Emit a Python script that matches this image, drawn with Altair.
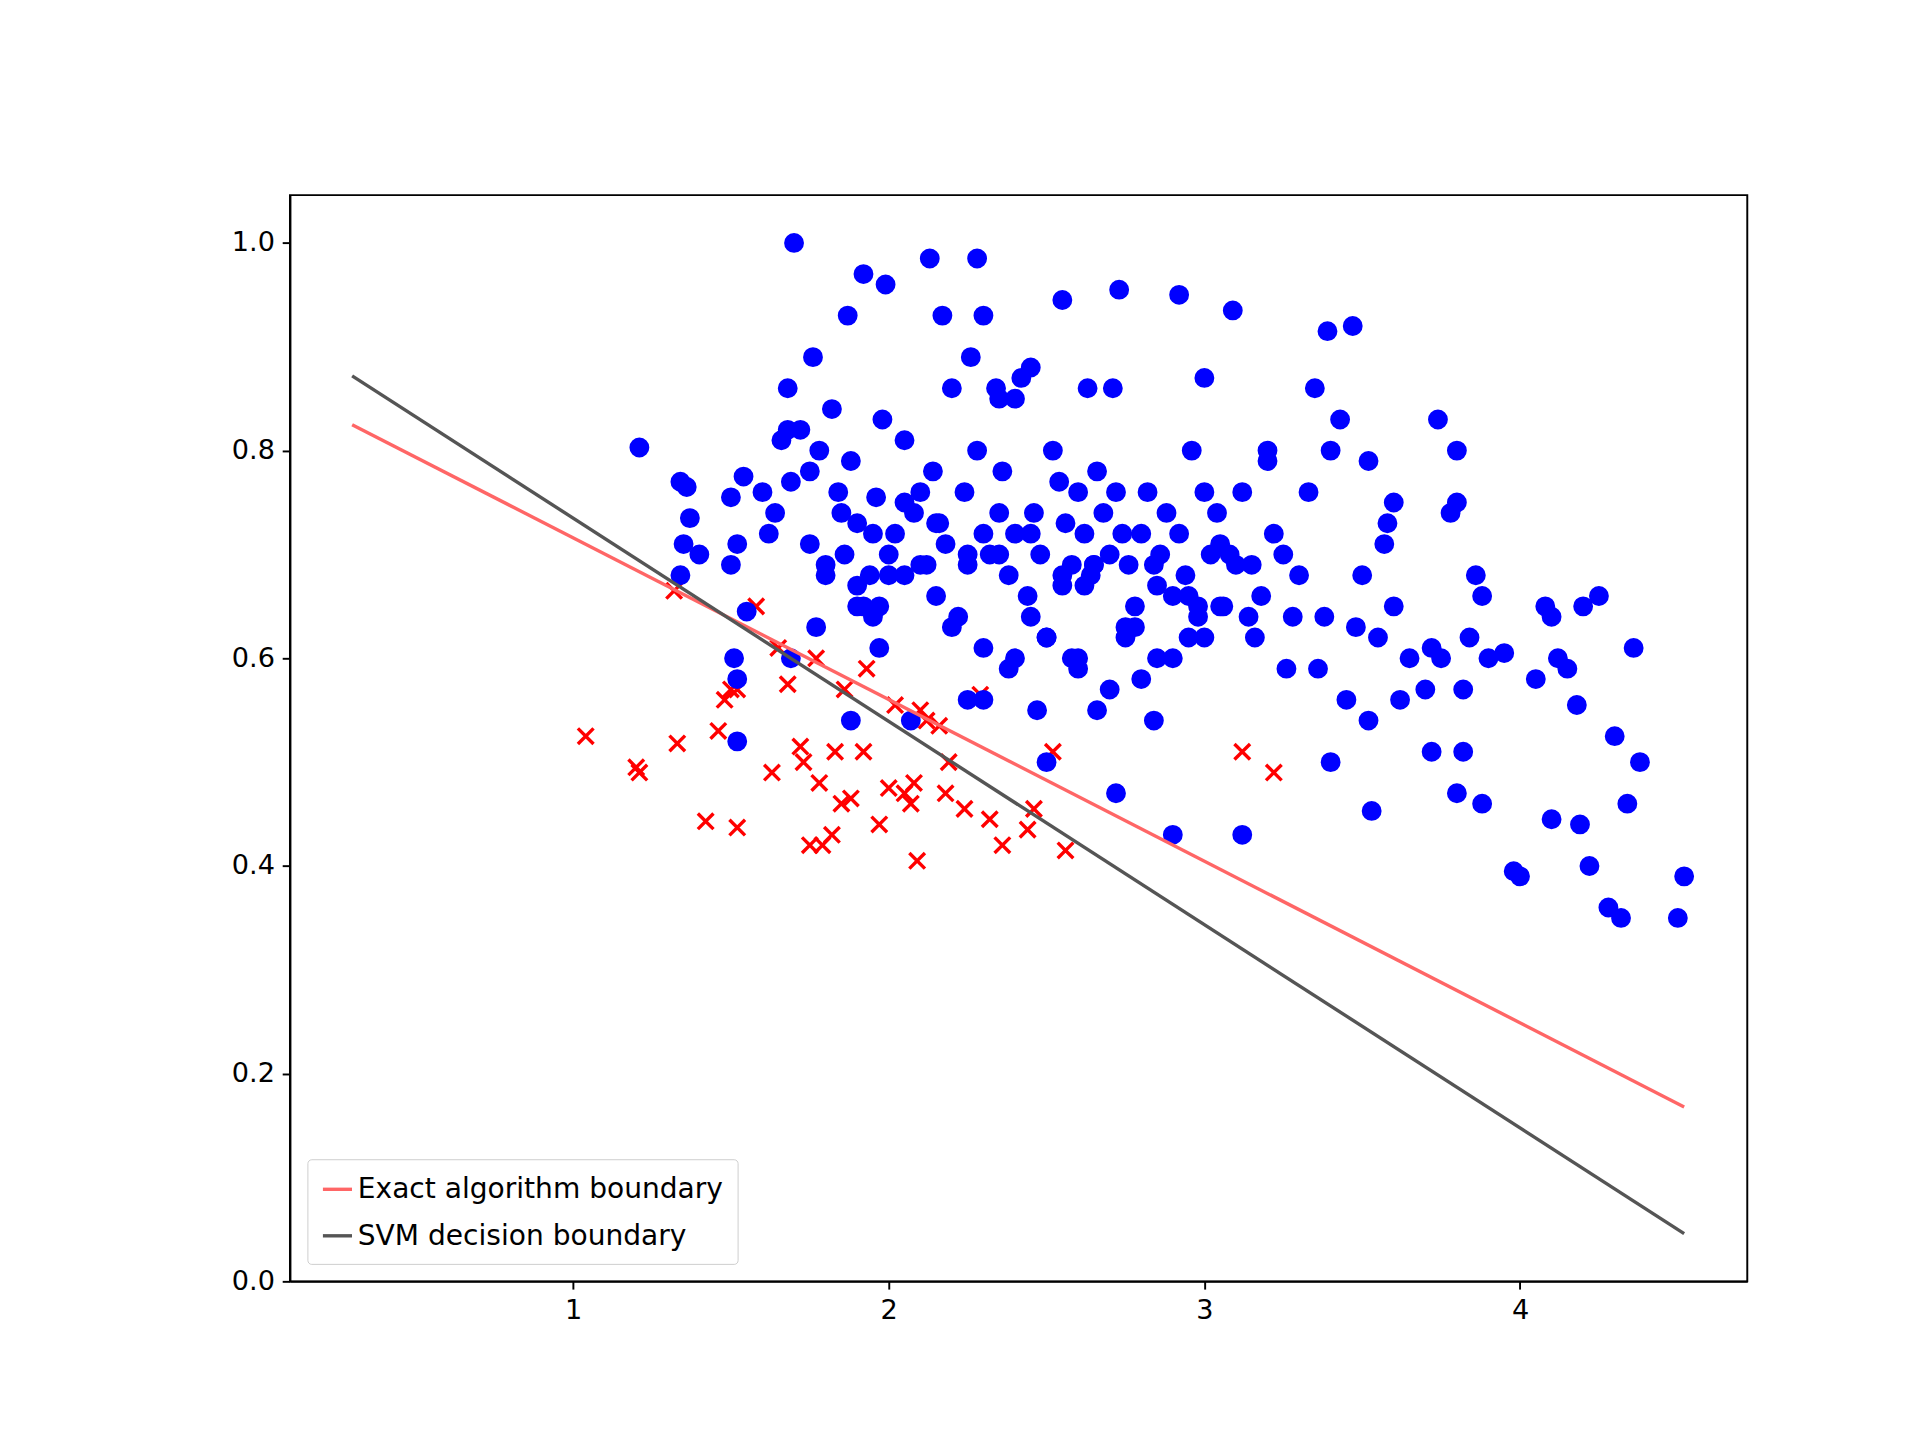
import altair as alt
import pandas as pd

red_x = [1.04,1.20,1.21,1.33,1.32,1.42,1.46,1.48,1.50,1.52,1.52,1.58,1.63,1.65,1.68,1.72,1.73,1.75,1.77,1.78,1.79,1.82,1.83,1.85,1.86,1.88,1.92,1.97,2.00,2.05,2.07,2.08,2.09,2.10,2.12,2.16,2.18,2.19,2.24,2.29,2.32,2.36,2.44,2.46,2.52,2.56,3.12,3.22,1.93,2.02]
red_y = [0.525,0.495,0.490,0.518,0.665,0.443,0.530,0.560,0.570,0.437,0.570,0.650,0.490,0.610,0.575,0.515,0.500,0.420,0.600,0.480,0.420,0.430,0.510,0.460,0.570,0.465,0.510,0.440,0.475,0.470,0.460,0.480,0.405,0.550,0.540,0.535,0.470,0.500,0.455,0.565,0.445,0.420,0.435,0.455,0.510,0.415,0.510,0.490,0.590,0.555]

blue_x = [1.21,1.34,1.35,1.37,1.34,1.36,1.40,1.50,1.52,1.54,1.51,1.50,1.55,1.60,1.62,1.64,1.66,1.68,1.69,1.72,1.75,1.76,1.78,1.80,1.82,1.84,1.86,1.88,1.90,1.92,1.94,1.96,1.98,2.00,2.02,2.05,2.08,2.10,2.12,2.14,2.16,2.18,2.20,2.22,2.24,2.26,2.28,2.30,2.32,2.34,2.36,2.38,2.40,2.42,2.44,2.46,2.48,2.50,2.52,2.54,2.56,2.58,2.60,2.62,2.64,2.66,2.68,2.70,2.72,2.74,2.76,2.78,2.80,2.82,2.84,2.86,2.88,2.90,2.92,2.94,2.96,2.98,3.00,3.02,3.04,3.06,3.08,3.10,3.12,3.14,3.16,3.18,3.20,3.22,3.25,3.28,3.30,3.33,3.36,3.38,3.40,3.45,3.48,3.50,3.52,3.55,3.58,3.60,3.62,3.65,3.70,3.72,3.75,3.78,3.80,3.82,3.84,3.86,3.88,3.90,3.95,4.00,4.05,4.08,4.10,4.12,4.15,4.18,4.20,4.22,4.25,4.28,4.30,4.32,4.34,4.36,4.38,4.50,4.52,3.98,4.10,4.19,3.88,3.80,3.82,3.74,3.53,3.12,2.90,2.72,2.66,2.60,2.50,2.38,2.30,1.97,2.07,1.88,1.52,1.52,1.69,1.75,1.97,1.90,1.95,2.05,2.15,2.25,2.35,2.45,2.55,2.65,2.75,2.85,2.95,3.05,3.15,1.85,1.95,2.05,2.15,2.25,2.35,2.45,2.55,2.65,2.75,2.85,2.95,3.05,2.20,2.30,2.40,2.50,2.60,2.70,2.80,2.90,3.00,2.10,2.00,1.90,1.80,1.70,2.28,2.73,2.92,3.39,3.47,3.09,2.13,1.99,1.87,1.92,2.17,2.30,2.55,2.63,2.45,2.71,1.77,1.68,2.40,3.00,3.20,3.35,3.60,3.72,3.80,3.43,3.57,2.62,2.78,2.84,2.98,3.26,3.40,3.52,2.47,2.35,2.25,2.58]
blue_y = [0.803,0.770,0.710,0.735,0.680,0.765,0.700,0.690,0.710,0.775,0.600,0.755,0.645,0.760,0.720,0.740,0.810,0.860,0.770,0.820,0.780,0.890,0.800,0.690,0.840,0.760,0.700,0.790,0.730,0.650,0.680,0.755,0.830,0.700,0.720,0.810,0.740,0.760,0.690,0.780,0.730,0.710,0.860,0.640,0.760,0.890,0.800,0.720,0.700,0.860,0.780,0.680,0.720,0.870,0.660,0.740,0.700,0.620,0.800,0.770,0.730,0.690,0.760,0.720,0.680,0.780,0.740,0.700,0.760,0.720,0.690,0.650,0.720,0.760,0.690,0.700,0.740,0.660,0.720,0.680,0.800,0.650,0.760,0.700,0.740,0.650,0.700,0.690,0.760,0.640,0.620,0.660,0.800,0.720,0.700,0.640,0.680,0.760,0.590,0.640,0.800,0.560,0.630,0.680,0.790,0.620,0.730,0.750,0.560,0.600,0.570,0.510,0.600,0.740,0.800,0.570,0.620,0.680,0.660,0.600,0.605,0.390,0.580,0.650,0.640,0.600,0.590,0.555,0.650,0.400,0.660,0.360,0.525,0.350,0.460,0.610,0.500,0.350,0.390,0.395,0.445,0.440,0.460,0.470,0.510,0.830,0.453,0.430,0.430,0.470,0.550,0.600,0.500,0.590,0.560,0.610,0.540,0.540,0.520,0.580,0.600,0.710,0.650,0.650,0.640,0.680,0.660,0.690,0.700,0.640,0.670,0.690,0.620,0.600,0.620,0.710,0.690,0.740,0.720,0.750,0.730,0.700,0.740,0.720,0.680,0.690,0.630,0.670,0.660,0.650,0.630,0.610,0.600,0.620,0.590,0.570,0.580,0.600,0.620,0.690,0.680,0.670,0.680,1.000,0.985,0.955,0.950,0.915,0.920,0.935,0.985,0.960,0.930,0.970,0.930,0.930,0.945,0.860,0.880,0.860,0.630,0.820,0.850,0.870,0.790,0.860,0.650,0.610,0.750,0.830,0.710,0.670,0.630,0.540,0.640,0.590,0.500,0.540,0.550,0.850,0.560,0.600,0.480]

n_blue = min(len(blue_x), len(blue_y))
blue = pd.DataFrame({"x": blue_x[:n_blue], "y": blue_y[:n_blue]})
red = pd.DataFrame({"x": red_x, "y": red_y})

line_series = ["Exact algorithm boundary", "Exact algorithm boundary", "SVM decision boundary", "SVM decision boundary"]
line_x = [0.30, 4.52, 0.30, 4.52]
line_y = [0.825, 0.168, 0.872, 0.046]
lines = pd.DataFrame({"series": line_series, "x": line_x, "y": line_y})

xs = alt.Scale(domain=[0.103, 4.72], nice=False, zero=False)
ys = alt.Scale(domain=[0, 1.046], nice=False, zero=False)
xax = alt.Axis(values=[1, 2, 3, 4], format="d", grid=False, title=None)
yax = alt.Axis(values=[0, 0.2, 0.4, 0.6, 0.8, 1.0], format=".1f", grid=False, title=None)

pts_red = alt.Chart(red).mark_point(
    shape="M-1,-1L1,1M-1,1L1,-1", color="#ff0000", filled=False, strokeWidth=3.5, size=260, opacity=1
).encode(x=alt.X("x:Q", scale=xs, axis=xax), y=alt.Y("y:Q", scale=ys, axis=yax))

pts_blue = alt.Chart(blue).mark_circle(color="#0000ff", size=420, opacity=1).encode(
    x=alt.X("x:Q", scale=xs), y=alt.Y("y:Q", scale=ys))

ln = alt.Chart(lines).mark_line(strokeWidth=3.5).encode(
    x=alt.X("x:Q", scale=xs), y=alt.Y("y:Q", scale=ys),
    color=alt.Color("series:N", scale=alt.Scale(
        domain=["Exact algorithm boundary", "SVM decision boundary"],
        range=["#ff6666", "#555555"]),
        legend=alt.Legend(title=None, orient="bottom-left", symbolType="stroke",
                          symbolStrokeWidth=3.5, symbolSize=900, labelFontSize=29,
                          labelFont="DejaVu Sans", strokeColor="#cccccc", cornerRadius=4,
                          padding=14, rowPadding=16, offset=18, fillColor="white",
                          labelLimit=600)),
    detail="series:N")

chart = alt.layer(pts_red, pts_blue, ln).properties(
    width=1504, height=1121,
    padding={"left": 230, "top": 170, "right": 170, "bottom": 110}
).configure_view(stroke="black", strokeWidth=2).configure_axis(
    labelFontSize=28, labelFont="DejaVu Sans", labelColor="black", domainColor="black",
    tickColor="black", tickSize=8, tickWidth=2, domainWidth=2, labelPadding=8
)
chart.save("out.html", embed_options={"renderer": "svg", "actions": False})
